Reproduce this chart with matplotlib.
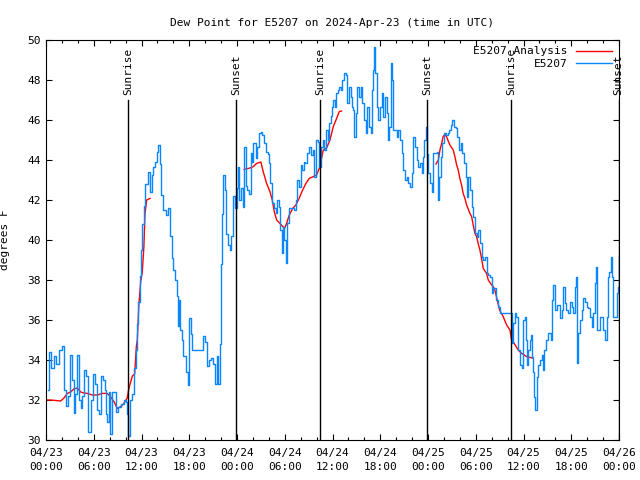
import matplotlib
matplotlib.use("Agg")
import matplotlib.pyplot as plt
import matplotlib.dates as mdates
import numpy as np
from datetime import datetime, timedelta

# ==========================================
# DATA (hours since 2024-04-23 00:00 UTC, dew point in F)
# ==========================================
START = datetime(2024, 4, 23, 0, 0)

OBS_HOURS = [
    0.25, 0.4, 0.67, 1.0, 1.3, 1.6, 2.05, 2.26, 2.5, 2.76, 3.0, 3.3, 3.5, 3.7, 3.94,
    4.15, 4.35, 4.57, 4.77, 5.07, 5.32, 5.6, 5.9, 6.1, 6.35, 6.6, 6.87, 7.16, 7.37,
    7.6, 7.7, 7.9, 8.1, 8.33, 8.54, 8.75, 9.05, 9.46, 9.8, 10.0, 10.2, 10.34, 10.55,
    10.77, 11.05, 11.27, 11.4, 11.6, 11.8, 11.9, 12.1, 12.3, 12.5, 12.85, 13.07,
    13.27, 13.5, 13.7, 13.9, 14.1, 14.3, 14.5, 14.7, 15.07, 15.37, 15.6, 15.8, 16.0,
    16.2, 16.4, 16.6, 16.75, 16.87, 17.05, 17.25, 17.55, 17.8, 17.96, 18.2, 18.4,
    18.93, 19.35, 19.76, 19.97, 20.27, 20.5, 20.7, 20.94, 21.23, 21.44, 21.65, 21.86,
    21.98, 22.1, 22.27, 22.5, 22.6, 22.9, 23.1, 23.3, 23.5, 23.74, 23.95, 24.08,
    24.3, 24.5, 24.7, 24.9, 25.1, 25.3, 25.5, 25.7, 25.9, 26.05, 26.35, 26.55, 26.8,
    26.97, 27.2, 27.4, 27.64, 27.85, 28.05, 28.2, 28.43, 28.64, 28.85, 29.06, 29.27,
    29.4, 29.6, 29.73, 29.94, 30.15, 30.3, 30.57, 30.86, 31.16, 31.37, 31.57, 31.8,
    32.0, 32.2, 32.4, 32.6, 32.83, 33.08, 33.3, 33.5, 33.7, 33.9, 34.13, 34.33,
    34.55, 34.76, 34.97, 35.18, 35.4, 35.6, 35.77, 35.9, 36.1, 36.3, 36.5, 36.7,
    36.85, 37.06, 37.2, 37.44, 37.7, 37.85, 38.07, 38.28, 38.5, 38.6, 38.74, 38.9,
    39.1, 39.36, 39.53, 39.74, 39.95, 40.16, 40.37, 40.58, 40.8, 41.0, 41.1, 41.24,
    41.37, 41.55, 41.75, 41.96, 42.17, 42.38, 42.6, 42.8, 43.0, 43.13, 43.3, 43.43,
    43.63, 43.84, 44.06, 44.26, 44.47, 44.7, 44.9, 45.1, 45.3, 45.5, 45.73, 45.94,
    46.14, 46.36, 46.57, 46.77, 47.0, 47.2, 47.4, 47.53, 47.7, 47.83, 48.03, 48.24,
    48.45, 48.66, 48.87, 49.08, 49.2, 49.37, 49.58, 49.8, 50.0, 50.25, 50.46, 50.67,
    50.88, 51.04, 51.26, 51.47, 51.67, 51.9, 52.1, 52.3, 52.5, 52.73, 52.85, 53.05,
    53.27, 53.48, 53.68, 53.9, 54.1, 54.3, 54.52, 54.73, 54.94, 55.15, 55.36, 55.57,
    55.78, 56.0, 56.2, 56.4, 56.6, 56.8, 57.0, 57.66, 58.3, 58.5, 58.7, 58.9, 59.1,
    59.33, 59.55, 59.76, 59.96, 60.2, 60.3, 60.47, 60.6, 60.8, 60.93, 61.1, 61.22,
    61.35, 61.5, 61.65, 61.85, 62.06, 62.27, 62.4, 62.6, 62.8, 63.03, 63.23, 63.4,
    63.6, 63.73, 63.94, 64.16, 64.36, 64.57, 64.78, 65.0, 65.2, 65.4, 65.6, 65.83,
    66.04, 66.25, 66.45, 66.6, 66.75, 66.87, 67.1, 67.3, 67.5, 67.7, 67.93, 68.13,
    68.34, 68.55, 68.76, 68.97, 69.1, 69.26, 69.6, 69.8, 70.0, 70.23, 70.44, 70.56,
    70.77, 71.0, 71.1, 71.27, 71.5, 71.7, 71.9, 72.0,
]
OBS_VALUES = [
    32.5, 34.4, 33.6, 34.2, 33.8, 34.5, 34.7, 32.5, 31.7, 32.2, 34.25, 33.0, 31.35, 32.3, 34.25,
    32.0, 31.6, 32.2, 33.5, 33.2, 30.4, 32.0, 33.3, 32.8, 31.5, 31.3, 33.2, 33.0, 32.5,
    31.3, 30.9, 32.4, 30.3, 32.4, 32.4, 31.4, 31.65, 31.8, 32.0, 31.9, 31.3, 30.2, 32.0,
    32.3, 33.6, 34.5, 35.8, 36.9, 38.2, 39.5, 40.8, 41.7, 42.8, 43.4, 42.4,
    43.25, 43.67, 43.9, 44.4, 44.75, 43.8, 42.25, 41.5, 41.25, 41.6, 40.2, 39.1, 38.5,
    38.0, 37.2, 35.7, 37.0, 35.5, 35.0, 34.2, 33.4, 32.75, 36.1, 35.3, 34.5,
    34.5, 34.5, 35.2, 34.9, 33.7, 34.0, 34.1, 33.8, 32.8, 34.2, 32.8, 34.8,
    38.8, 41.3, 43.25, 42.5, 40.3, 39.75, 39.5, 40.2, 42.2, 41.6, 42.6, 43.67,
    42.0, 42.6, 41.67, 44.67, 42.7, 42.5, 42.3, 44.33, 43.9, 44.83, 44.1, 44.67, 45.33,
    45.42, 45.25, 44.83, 44.4, 44.3, 43.83, 42.83, 41.83, 41.58, 41.33, 42.0, 41.67,
    40.5, 39.33, 40.67, 40.0, 38.83, 40.83, 41.58, 41.58, 41.5, 42.0, 43.0, 42.67,
    43.75, 43.5, 43.92, 43.83, 44.33, 44.67, 44.25, 44.5, 43.17, 45.0, 44.9, 43.67,
    44.67, 45.0, 44.5, 45.5, 45.0, 45.83, 46.2, 46.67, 47.0, 46.67, 47.33, 47.5,
    47.67, 47.5, 48.0, 48.33, 48.25, 46.83, 47.67, 47.17, 46.67, 46.5, 45.17, 46.33,
    47.67, 47.17, 47.67, 46.83, 46.0, 45.33, 46.67, 45.67, 45.33, 47.5, 48.5, 49.67,
    48.33, 46.67, 46.0, 46.67, 47.33, 46.17, 47.17, 46.33, 45.0, 45.67, 48.83, 48.0,
    45.5, 45.5, 45.17, 45.5, 45.0, 44.33, 43.5, 43.0, 43.17, 42.83, 42.67, 43.33,
    45.17, 44.67, 44.0, 43.67, 43.83, 43.33, 44.17, 45.0, 45.67, 44.3, 43.33, 42.83,
    42.42, 44.33, 44.33, 44.4, 42.0, 43.17, 44.17, 44.83, 45.33, 45.25, 45.33, 45.5,
    45.75, 46.0, 45.67, 45.6, 45.17, 44.5, 44.83, 44.33, 43.83, 43.17, 42.17, 43.17,
    42.5, 41.67, 41.17, 40.33, 40.17, 40.5, 39.83, 39.17, 39.0, 39.17, 38.33, 38.25,
    38.17, 37.33, 37.6, 37.6, 37.0, 36.67, 36.33, 36.33, 36.33, 34.83, 35.83, 36.33, 36.17,
    34.5, 33.75, 33.58, 36.0, 36.17, 35.0, 33.75, 34.5, 35.0, 35.25, 34.17, 33.42,
    32.17, 31.5, 33.17, 33.75, 34.0, 34.25, 33.5, 34.5, 35.0, 35.33, 35.33, 35.0,
    37.0, 37.75, 36.5, 36.75, 36.75, 36.08, 36.5, 37.67, 36.83, 36.5, 36.33, 36.92,
    36.67, 36.33, 37.67, 38.17, 33.83, 35.33, 36.0, 36.5, 37.1, 36.92, 36.67, 36.58,
    36.17, 35.67, 36.33, 37.83, 38.67, 35.5, 36.17, 36.17, 35.5, 35.0, 36.17, 38.17,
    38.42, 39.17, 38.17, 36.17, 36.17, 37.33, 37.67, 39.2,
]

# Analysis has gaps (NaN breaks the line)
ANL_HOURS = [
    0.0, 0.6, 1.84, 2.26, 2.68, 3.1, 3.5, 3.93, 4.35, 4.77, 5.2, 5.8, 6.45, 7.07, 7.7,
    8.1, 8.54, 8.96, 9.38, 9.8, 10.2, 10.43, 10.64, 10.85, 11.14, 11.35, 11.47, 11.68,
    11.9, 12.1, 12.3, 12.44, 12.65, 13.07, 13.1,
    24.9, 25.63, 26.05, 26.47, 27.0, 27.3, 27.72, 28.14, 28.43, 28.68, 28.98, 29.4,
    29.73, 30.0, 30.23, 30.57, 31.0, 31.4, 31.8, 32.25, 32.66, 33.08, 33.58, 34.0,
    34.42, 34.84, 35.26, 35.68, 36.1, 36.52, 36.85, 37.14, 37.2,
    49.0, 49.3, 49.5, 49.7, 49.9, 50.1, 50.33, 50.54, 50.75, 51.17, 51.38, 51.6, 51.8,
    52.0, 52.22, 52.42, 52.64, 52.85, 53.27, 53.48, 53.68, 53.9, 54.1, 54.3, 54.52,
    54.73, 54.94, 55.36, 55.57, 56.0, 56.2, 56.4, 56.6, 56.8, 57.0, 57.45, 57.88,
    58.3, 58.5, 58.7, 59.33, 59.76, 60.4, 61.1,
]
ANL_VALUES = [
    32.0, 32.0, 31.95, 32.1, 32.33, 32.4, 32.55, 32.6, 32.4, 32.35, 32.33, 32.25, 32.25, 32.33, 32.33,
    32.17, 31.92, 31.58, 31.67, 31.83, 32.1, 32.6, 32.9, 33.2, 33.3, 34.67, 35.0, 36.83,
    37.92, 38.4, 39.67, 41.33, 42.0, 42.08, np.nan,
    43.53, 43.6, 43.67, 43.83, 43.9, 43.4, 42.83, 42.42, 42.0, 41.42, 41.0, 40.83,
    40.67, 40.6, 40.83, 41.25, 41.58, 41.75, 42.08, 42.5, 42.83, 43.08, 43.17, 43.25,
    43.67, 44.5, 44.6, 45.0, 45.67, 46.08, 46.42, 46.45, np.nan,
    43.8, 44.0, 44.5, 44.8, 45.17, 45.27, 45.17, 44.95, 44.75, 44.5, 44.17, 43.75, 43.5,
    43.08, 42.75, 42.33, 42.08, 41.75, 41.33, 41.17, 40.75, 40.33, 40.17, 39.83, 39.5,
    39.08, 38.58, 38.33, 38.0, 37.75, 37.67, 37.5, 37.17, 36.83, 36.5, 36.17, 35.75,
    35.5, 35.0, 34.92, 34.5, 34.33, 34.17, 34.1,
]

SUN_EVENTS = ["Sunrise", "Sunset", "Sunrise", "Sunset", "Sunrise", "Sunset"]
SUN_HOURS = [10.3, 23.9, 34.4, 47.9, 58.4, 71.95]

BLUE = "#0a86ff"
RED = "#ff0000"

plt.rcParams["font.family"] = ["DejaVu Sans Mono"]
plt.rcParams["font.size"] = 8


def to_times(hours):
    return [START + timedelta(hours=h) for h in hours]


fig = plt.figure(figsize=(6.4, 4.8), dpi=100)
ax = fig.add_axes([46 / 640, 40 / 480, 573 / 640, 400 / 480])

ax.plot(to_times(ANL_HOURS), ANL_VALUES, color=RED, linewidth=1.0,
        label="E5207 Analysis")
ax.plot(to_times(OBS_HOURS), OBS_VALUES, color=BLUE, linewidth=1.0,
        drawstyle="steps-post", label="E5207")

# sunrise / sunset markers
for name, h in zip(SUN_EVENTS, SUN_HOURS):
    t = START + timedelta(hours=h)
    ax.plot([t, t], [30, 47.0], color="black", linewidth=1.0)
    ax.text(t, 47.25, name, rotation=90, ha="center", va="bottom", fontsize=8)

ax.set_xlim(START, START + timedelta(hours=72))
ax.set_ylim(30, 50)

ax.xaxis.set_major_locator(mdates.HourLocator(byhour=[0, 6, 12, 18]))
ax.xaxis.set_minor_locator(mdates.HourLocator(interval=2))
ax.xaxis.set_major_formatter(mdates.DateFormatter("%m/%d\n%H:%M"))
ax.set_yticks(np.arange(30, 51, 2))

ax.tick_params(which="both", direction="in", top=True, right=True, labelsize=8)
ax.tick_params(which="major", length=4, width=0.8)
ax.tick_params(axis="x", which="major", pad=6)
ax.tick_params(which="minor", length=2.5, width=0.8)
for lbl in ax.get_xticklabels():
    lbl.set_linespacing(1.5)
for s in ax.spines.values():
    s.set_linewidth(0.8)

ax.set_title("Dew Point for E5207 on 2024-Apr-23 (time in UTC)", fontsize=8, pad=10)
ax.set_ylabel("degrees F", fontsize=8)
ax.yaxis.set_label_coords(-0.063, 0.5)

ax.legend(loc="upper right", frameon=False, markerfirst=False, fontsize=8,
          handlelength=3.2, borderaxespad=0.0, labelspacing=0.25,
          bbox_to_anchor=(0.995, 0.995))

fig.savefig("out.png", dpi=100)
